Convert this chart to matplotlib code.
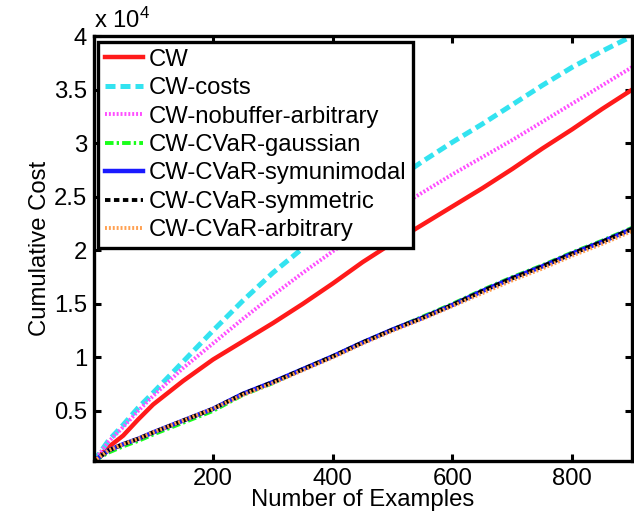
"""Cumulative cost of the CW variants against number of examples."""
import numpy as np
import matplotlib.pyplot as plt

plt.rcParams['font.family'] = ['Liberation Sans', 'DejaVu Sans']
plt.rcParams['mathtext.default'] = 'regular'

# number of examples seen
examples = [1, 25, 50, 75, 100, 150, 200, 250, 300, 350, 400, 450,
            500, 550, 600, 650, 700, 750, 800, 850, 900]

# cumulative cost, in units of 1e4
cw = [0.03, 0.16, 0.27, 0.42, 0.56, 0.78, 0.98, 1.15, 1.32, 1.50, 1.69,
      1.89, 2.07, 2.24, 2.41, 2.58, 2.76, 2.95, 3.13, 3.32, 3.50]
cw_costs = [0.03, 0.22, 0.37, 0.53, 0.67, 0.96, 1.25, 1.53, 1.79, 2.02, 2.24,
            2.45, 2.64, 2.83, 3.01, 3.18, 3.36, 3.54, 3.71, 3.86, 4.00]
cw_nobuffer = [0.03, 0.21, 0.35, 0.50, 0.64, 0.90, 1.13, 1.36, 1.58, 1.79, 1.99,
               2.18, 2.37, 2.54, 2.71, 2.87, 3.03, 3.20, 3.37, 3.54, 3.71]
cvar_gaussian = [0.03, 0.11, 0.17, 0.22, 0.28, 0.39, 0.50, 0.65, 0.76, 0.89, 1.01,
                 1.14, 1.26, 1.38, 1.50, 1.63, 1.75, 1.86, 1.98, 2.09, 2.21]
cvar_symunimodal = [0.03, 0.13, 0.19, 0.24, 0.30, 0.41, 0.52, 0.66, 0.77, 0.89, 1.01,
                    1.14, 1.26, 1.37, 1.49, 1.62, 1.74, 1.85, 1.97, 2.08, 2.20]
cvar_symmetric = [0.03, 0.13, 0.19, 0.24, 0.30, 0.41, 0.52, 0.66, 0.77, 0.89, 1.01,
                  1.14, 1.26, 1.37, 1.49, 1.62, 1.74, 1.85, 1.97, 2.08, 2.20]
cvar_arbitrary = [0.03, 0.13, 0.19, 0.24, 0.30, 0.41, 0.52, 0.65, 0.76, 0.88, 1.00,
                  1.13, 1.25, 1.36, 1.48, 1.60, 1.72, 1.83, 1.95, 2.06, 2.18]

labels = ['CW', 'CW-costs', 'CW-nobuffer-arbitrary', 'CW-CVaR-gaussian',
          'CW-CVaR-symunimodal', 'CW-CVaR-symmetric', 'CW-CVaR-arbitrary']
yticks = [0.5, 1, 1.5, 2, 2.5, 3, 3.5, 4]
xticks = [200, 400, 600, 800]

series = [cw, cw_costs, cw_nobuffer, cvar_gaussian,
          cvar_symunimodal, cvar_symmetric, cvar_arbitrary]
styles = [
    dict(color='#ff1a1a', lw=3.2, ls='-'),
    dict(color='#33e3f0', lw=3.6, ls=(0, (2.0, 1.0))),
    dict(color='#ff4dff', lw=2.8, ls=(0, (0.5, 0.5))),
    dict(color='#19ff19', lw=2.8, ls=(0, (2.2, 0.8, 0.6, 0.8))),
    dict(color='#1a1aff', lw=3.2, ls='-'),
    dict(color='#000000', lw=2.8, ls=(0, (1.4, 0.9))),
    dict(color='#ffa050', lw=2.8, ls=(0, (0.5, 0.5))),
]
fs = 17.2

fig = plt.figure(figsize=(6.34, 5.16), dpi=100)
ax = fig.add_axes([0.148, 0.106, 0.849, 0.824])

x = np.array(examples)
for vals, lab, st in zip(series, labels, styles):
    ax.plot(x, np.array(vals) * 1e4, label=lab, **st)

ax.set_xlim(1, 900)
ax.set_ylim(min(min(s) for s in series) * 1e4, 4e4)
ax.set_xticks(xticks)
ax.set_yticks(np.array(yticks) * 1e4)
ax.set_yticklabels([f'{t:g}' for t in yticks])
ax.tick_params(direction='in', length=5, width=2.2, labelsize=fs,
               top=True, right=True, pad=5)
for sp in ax.spines.values():
    sp.set_linewidth(2.4)

ax.set_xlabel('Number of Examples', fontsize=fs, labelpad=-1)
ax.set_ylabel('Cumulative Cost', fontsize=fs, labelpad=2)
ax.text(0.0, 1.008, 'x 10$^{4}$', transform=ax.transAxes,
        fontsize=fs, ha='left', va='bottom')

leg = ax.legend(loc='upper left', bbox_to_anchor=(98 / 634, 1 - 42 / 516),
                bbox_transform=fig.transFigure, borderaxespad=0,
                fontsize=fs, handlelength=1.6, handletextpad=0.25,
                labelspacing=0.27, borderpad=0.28, fancybox=False,
                framealpha=1)
leg.get_frame().set_edgecolor('black')
leg.get_frame().set_linewidth(2.4)

fig.savefig('out.png', dpi=100)
